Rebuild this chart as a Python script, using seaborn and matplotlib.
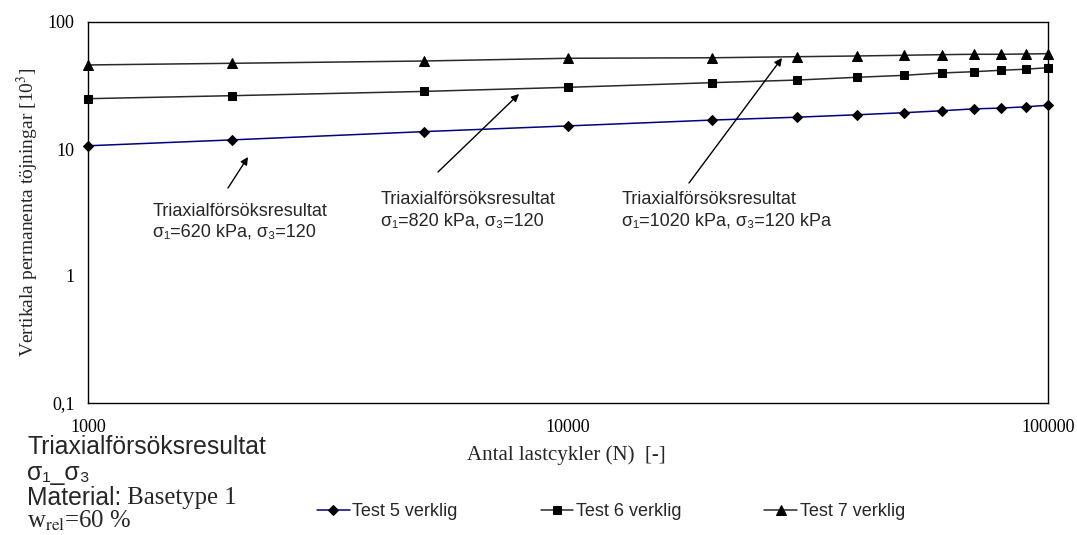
import numpy as np
import pandas as pd
import matplotlib
matplotlib.use("Agg")
import matplotlib.pyplot as plt
import seaborn as sns

# antal lastcykler
cycles = [1000, 2000, 5000, 10000, 20000, 30000, 40000, 50000,
          60000, 70000, 80000, 90000, 100000]

# permanenta töjningar [10^3]
test5 = [10.6, 11.8, 13.7, 15.2, 16.9, 17.8, 18.6, 19.3, 20.0, 20.7, 21.0, 21.5, 22.1]
test6 = [24.9, 26.3, 28.4, 30.6, 33.3, 34.9, 36.7, 38.0, 39.7, 40.6, 41.7, 42.5, 43.7]
test7 = [45.9, 47.3, 49.3, 51.8, 52.3, 53.3, 54.0, 54.7, 55.3, 55.7, 55.7, 56.0, 56.3]

series_names = ["Test 5 verklig", "Test 6 verklig", "Test 7 verklig"]
x_ticks = [1000, 10000, 100000]
x_ticklabels = ["1000", "10000", "100000"]
y_ticks = [0.1, 1, 10, 100]
y_ticklabels = ["0,1", "1", "10", "100"]

df = pd.DataFrame({
    "N": cycles * 3,
    "strain": test5 + test6 + test7,
    "serie": np.repeat(series_names, len(cycles)),
})

sns.set_style("white")
plt.rcParams["font.family"] = ["Liberation Sans", "DejaVu Sans"]
plt.rcParams["mathtext.fontset"] = "stix"

SERIF = ["Liberation Serif", "DejaVu Serif"]
SANS = ["Liberation Sans", "DejaVu Sans"]
W, H = 1077, 535

fig = plt.figure(figsize=(10.77, 5.35), dpi=100)
ax = fig.add_axes([88 / W, 1 - 403 / H, 960 / W, 381 / H])

colors = {"Test 5 verklig": "#000080", "Test 6 verklig": "#2a2a2a", "Test 7 verklig": "#2a2a2a"}
markers = {"Test 5 verklig": "D", "Test 6 verklig": "s", "Test 7 verklig": "^"}
msizes = {"Test 5 verklig": 5, "Test 6 verklig": 6, "Test 7 verklig": 7}

for name in series_names:
    sub = df[df["serie"] == name]
    sns.lineplot(data=sub, x="N", y="strain", ax=ax, color=colors[name],
                 marker=markers[name], markersize=msizes[name],
                 markerfacecolor="black", markeredgecolor="black",
                 linewidth=1.1, label=name, legend=False, clip_on=False)

ax.set_xscale("log")
ax.set_yscale("log")
ax.set_xlim(1000, 100000)
ax.set_ylim(0.1, 100)
ax.set_xticks(x_ticks)
ax.set_xticklabels(x_ticklabels, family=SERIF, fontsize=13)
ax.set_yticks(y_ticks)
ax.set_yticklabels(y_ticklabels, family=SERIF, fontsize=13)
ax.minorticks_off()
ax.tick_params(axis="both", direction="out", length=3.6, width=1, colors="black")
ax.tick_params(axis="x", pad=8)
ax.tick_params(axis="y", pad=6)
for sp in ax.spines.values():
    sp.set_color("black")
    sp.set_linewidth(1)

ax.set_xlabel("Antal lastcykler (N)  [-]", family=SERIF, fontsize=15)
ax.xaxis.set_label_coords(0.498, -0.112)
ax.set_ylabel("Vertikala permanenta töjningar [10$^3$]", family=SERIF, fontsize=14)
ax.yaxis.set_label_coords(-0.049, 0.5)

# pilar och anteckningar
arrows = [((228, 188), (248, 157)),
          ((438, 172), (519, 94)),
          ((689, 183), (782, 58))]
for tail, head in arrows:
    ax.annotate("", xy=(head[0] / W, 1 - head[1] / H),
                xytext=(tail[0] / W, 1 - tail[1] / H),
                xycoords="figure fraction", textcoords="figure fraction",
                arrowprops=dict(arrowstyle="-|>", color="black", lw=1,
                                mutation_scale=11, shrinkA=0, shrinkB=0))

notes = [(153, 211, "σ₁=620 kPa, σ₃=120"),
         (381, 200, "σ₁=820 kPa, σ₃=120"),
         (622, 200, "σ₁=1020 kPa, σ₃=120 kPa")]
for x, y, second in notes:
    fig.text(x / W, 1 - y / H, "Triaxialförsöksresultat", family=SANS,
             fontsize=13, va="center", ha="left")
    fig.text(x / W, 1 - (y + 21) / H, second, family=SANS,
             fontsize=13, va="center", ha="left")

# textblock nere till vänster
fig.text(27 / W, 1 - 447 / H, "Triaxialförsöksresultat", family=SANS,
         fontsize=17.8, va="center", ha="left")
fig.text(27 / W, 1 - 473 / H, "σ₁_σ₃", family=SANS,
         fontsize=17.8, va="center", ha="left")
mat = fig.text(27 / W, 1 - 498 / H, "Material:", family=SANS,
               fontsize=17.8, va="center", ha="left")
ax.annotate(" Basetype 1", xy=(1, 0.5), xycoords=mat, va="center",
            ha="left", family=SERIF, fontsize=17.8)
fig.text(27 / W, 1 - 521 / H, "w$_{\\mathrm{rel}}$=60 %", family=SERIF,
         fontsize=17.8, va="center", ha="left")

handles, labels = ax.get_legend_handles_labels()
fig.legend(handles, labels, loc="center", bbox_to_anchor=(611 / W, 1 - 512 / H),
           ncol=3, frameon=False, fontsize=13, handlelength=1.8,
           columnspacing=4.6, handletextpad=0.15)

fig.savefig("out.png", dpi=100)
